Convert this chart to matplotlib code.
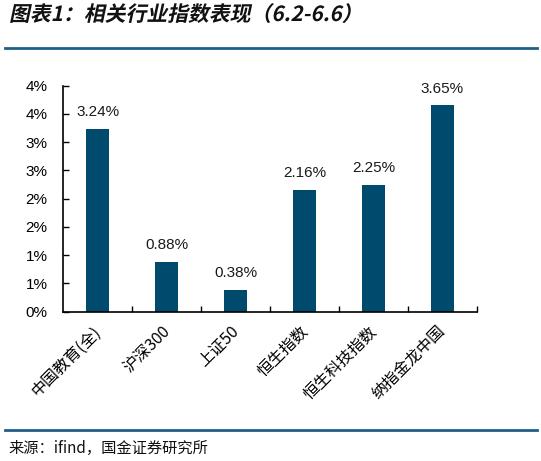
import numpy as np
import matplotlib
matplotlib.use('Agg')
import matplotlib.pyplot as plt
import matplotlib.transforms as mtransforms
from matplotlib.lines import Line2D
from matplotlib.textpath import TextPath
from matplotlib.patches import PathPatch
from matplotlib.font_manager import FontProperties

plt.rcParams['font.family'] = ['Liberation Sans', 'Noto Sans CJK SC', 'DejaVu Sans']

# data
categories = ['中国教育(全)', '沪深300', '上证50', '恒生指数', '恒生科技指数', '纳指金龙中国']
values = [3.24, 0.88, 0.38, 2.16, 2.25, 3.65]
ytick_vals = [0, 0.5, 1.0, 1.5, 2.0, 2.5, 3.0, 3.5, 4.0]
ytick_labels = ['0%', '1%', '1%', '2%', '2%', '3%', '3%', '4%', '4%']
title = '图表1：相关行业指数表现（6.2-6.6）'
source = '来源：ifind，国金证券研究所'

bar_color = '#004A6E'
line_color = '#1F5E89'

fig = plt.figure(figsize=(5.41, 4.61), dpi=100)
ax = fig.add_axes([0.1165, 0.3239, 0.7652, 0.4902])

x = np.arange(len(categories))
bars = ax.bar(x, values, width=0.34, color=bar_color)

for xi, v in zip(x, values):
    ax.annotate('%.2f%%' % v, (xi, v), xytext=(0, 7), textcoords='offset points',
                ha='center', va='bottom', fontsize=11, color='#1a1a1a')

ax.set_xlim(-0.5, len(categories) - 0.5)
ax.set_ylim(0, 4.0)
ax.set_yticks(ytick_vals)
ax.set_yticklabels(ytick_labels, fontsize=11)
ax.tick_params(axis='y', direction='in', length=4, width=1, pad=27)
for lab in ax.get_yticklabels():
    lab.set_horizontalalignment('left')

ax.set_xticks(x)
ax.set_xticklabels(categories, rotation=45, ha='right', fontsize=11.5,
                   family=['Noto Sans CJK SC', 'Liberation Sans'])
ax.tick_params(axis='x', which='major', length=0, pad=8)
shift = mtransforms.ScaledTranslation(7 / 100, 0, fig.dpi_scale_trans)
for lab in ax.get_xticklabels():
    lab.set_transform(lab.get_transform() + shift)
ax.set_xticks(np.arange(0.5, len(categories)), minor=True)
ax.tick_params(axis='x', which='minor', direction='in', length=4, width=1)

for s in ['top', 'right']:
    ax.spines[s].set_visible(False)
for s in ['left', 'bottom']:
    ax.spines[s].set_linewidth(1.2)

# title, slanted like the original
fp = FontProperties(family='Noto Sans CJK SC', weight='bold')
tp = TextPath((0, 0), title, size=15 * 100 / 72, prop=fp)
tr = mtransforms.Affine2D().skew_deg(12, 0).translate(9, 461 - 21)
fig.add_artist(PathPatch(tp, transform=tr + mtransforms.IdentityTransform(),
                         facecolor='#111111', edgecolor='none'))

fig.add_artist(Line2D([5 / 541, 537 / 541], [1 - 48.5 / 461] * 2, color=line_color, lw=2))
fig.add_artist(Line2D([5 / 541, 537 / 541], [1 - 430 / 461] * 2, color=line_color, lw=2))
fig.text(8 / 541, 1 - 448 / 461, source, fontsize=11,
         va='center', ha='left', family=['Noto Sans CJK SC', 'DejaVu Sans'], color='#111111')

fig.savefig('out.png', dpi=100)
